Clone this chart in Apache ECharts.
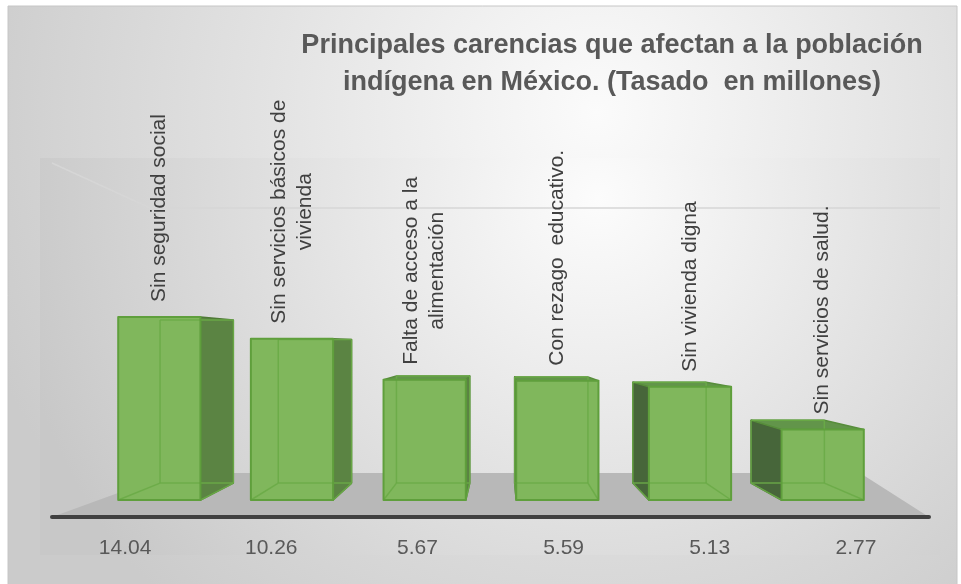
<!DOCTYPE html>
<html>
<head>
<meta charset="utf-8">
<script src="https://cdn.jsdelivr.net/npm/echarts@6/dist/echarts.min.js"></script>
<style>
    html, body { margin: 0; padding: 0; background: #ffffff; }
    #chart { width: 961px; height: 584px; }
</style>
</head>
<body>
<div id="chart"></div>
<script>
    var categories = [
        'Sin seguridad social',
        'Sin servicios básicos de\nvivienda',
        'Falta de acceso a la\nalimentación',
        'Con rezago  educativo.',
        'Sin vivienda digna',
        'Sin servicios de salud.'
    ];
    var values = [14.04, 10.26, 5.67, 5.59, 5.13, 2.77];
    var tickLabels = ['14.04', '10.26', '5.67', '5.59', '5.13', '2.77'];
    var titleText = 'Principales carencias que afectan a la población\nindígena en México. (Tasado  en millones)';

    var FONT = '"Liberation Sans", Arial, sans-serif';
    var VP = [502, 345];     // vanishing point of the 3D view
    var DEPTH = 0.109;       // how far the back face moves toward VP

    var measureCtx = document.createElement('canvas').getContext('2d');
    function textWidth(str, size) {
        measureCtx.font = size + 'px ' + FONT;
        return Math.max.apply(null, str.split('\n').map(function (s) {
            return measureCtx.measureText(s).width;
        }));
    }

    function toBack(p) {
        return [p[0] + DEPTH * (VP[0] - p[0]), p[1] + DEPTH * (VP[1] - p[1])];
    }

    function face(points, fill, stroke) {
        return {
            type: 'polygon',
            shape: { points: points },
            style: { fill: fill, stroke: stroke, lineWidth: 1.5, lineJoin: 'round' }
        };
    }

    function renderBox(params, api) {
        var idx = api.value(0);
        var top = api.coord([idx, api.value(1)]);
        var base = api.coord([idx, 1]);
        var w = api.size([1, 0])[0] * 0.62;
        var x0 = top[0] - w / 2, x1 = top[0] + w / 2, y0 = top[1], y1 = base[1];
        var ftl = [x0, y0], ftr = [x1, y0], fbr = [x1, y1], fbl = [x0, y1];
        var btl = toBack(ftl), btr = toBack(ftr), bbr = toBack(fbr), bbl = toBack(fbl);
        var children = [];

        // side faces
        if (btr[0] > x1 + 0.5) children.push(face([ftr, btr, bbr, fbr], '#5b8443', '#4f7a36'));
        if (btl[0] < x0 - 0.5) children.push(face([ftl, btl, bbl, fbl], '#47663a', '#3f5f31'));
        // top face, only seen when the bar is below eye level
        if (btl[1] < y0) children.push(face([ftl, btl, btr, ftr], '#62954a', '#578d3b'));

        // front face
        children.push({
            type: 'polygon',
            shape: { points: [ftl, ftr, fbr, fbl] },
            style: { fill: '#80b75c' }
        });
        // back edges seen through the front
        [[btl, bbl], [bbl, bbr], [btr, bbr], [btl, btr], [fbl, bbl], [fbr, bbr]]
            .forEach(function (e) {
                children.push({
                    type: 'line',
                    shape: { x1: e[0][0], y1: e[0][1], x2: e[1][0], y2: e[1][1] },
                    style: { stroke: '#6aab47', lineWidth: 1.5, opacity: 0.9 }
                });
            });
        children.push({
            type: 'polygon',
            shape: { points: [ftl, ftr, fbr, fbl] },
            style: { fill: 'none', stroke: '#5f9f3c', lineWidth: 2, lineJoin: 'round' }
        });

        // rotated category label above the bar
        var name = categories[idx];
        var lw = textWidth(name, 21);
        children.push({
            type: 'text',
            x: top[0],
            y: y0 - 15 - lw / 2,
            rotation: Math.PI / 2,
            style: {
                text: name,
                fill: '#404040',
                font: '21px ' + FONT,
                align: 'center',
                verticalAlign: 'middle',
                lineHeight: 26
            }
        });

        return { type: 'group', children: children };
    }

    var chart = echarts.init(document.getElementById('chart'));
    chart.setOption({
        animation: false,
        backgroundColor: '#ffffff',
        title: {
            text: titleText,
            left: 612,
            top: 27,
            padding: 0,
            textAlign: 'center',
            textStyle: {
                fontFamily: FONT,
                fontSize: 27,
                fontWeight: 'bold',
                color: '#595959',
                lineHeight: 37
            }
        },
        graphic: [
            {
                type: 'rect', z: -10,
                shape: { x: 8, y: 6, width: 949, height: 590 },
                style: {
                    fill: new echarts.graphic.RadialGradient(0.62, 0.18, 1.1, [
                        { offset: 0, color: '#fbfbfb' },
                        { offset: 1, color: '#cbcbcb' }
                    ]),
                    stroke: '#c6c6c6', lineWidth: 1
                }
            },
            {
                type: 'rect', z: -9,
                shape: { x: 40, y: 158, width: 900, height: 397 },
                style: {
                    fill: new echarts.graphic.RadialGradient(0.62, 0.1, 1.5, [
                        { offset: 0, color: '#fcfcfc' },
                        { offset: 1, color: '#c8c8c8' }
                    ])
                }
            },
            {
                type: 'polyline', z: -8,
                shape: { points: [[52, 163], [150, 208], [940, 208]] },
                style: { stroke: '#d6d6d6', lineWidth: 1.5, fill: 'none' }
            },
            {
                type: 'polygon', z: -7,
                shape: { points: [[52, 517], [929, 517], [860, 473], [173, 473]] },
                style: { fill: '#b8b8b8' }
            },
            {
                type: 'line', z: 20,
                shape: { x1: 52, y1: 517, x2: 929, y2: 517 },
                style: { stroke: '#404040', lineWidth: 4, lineCap: 'round' }
            }
        ],
        grid: [
            { left: 93, right: 72, top: 181, bottom: 84 },
            { left: 52, right: 32, top: 400, bottom: 67 }
        ],
        xAxis: [
            { type: 'category', gridIndex: 0, data: categories, show: false },
            {
                type: 'category', gridIndex: 1, data: tickLabels,
                axisLine: { show: false },
                axisTick: { show: false },
                axisLabel: { fontFamily: FONT, fontSize: 21, color: '#595959', margin: 21 }
            }
        ],
        yAxis: [
            { type: 'log', gridIndex: 0, min: 1, max: 100, show: false },
            { type: 'value', gridIndex: 1, show: false }
        ],
        series: [
            {
                type: 'custom',
                xAxisIndex: 0,
                yAxisIndex: 0,
                renderItem: renderBox,
                encode: { x: 0, y: 1 },
                data: values.map(function (v, i) { return [i, v]; })
            }
        ]
    });
</script>
</body>
</html>
